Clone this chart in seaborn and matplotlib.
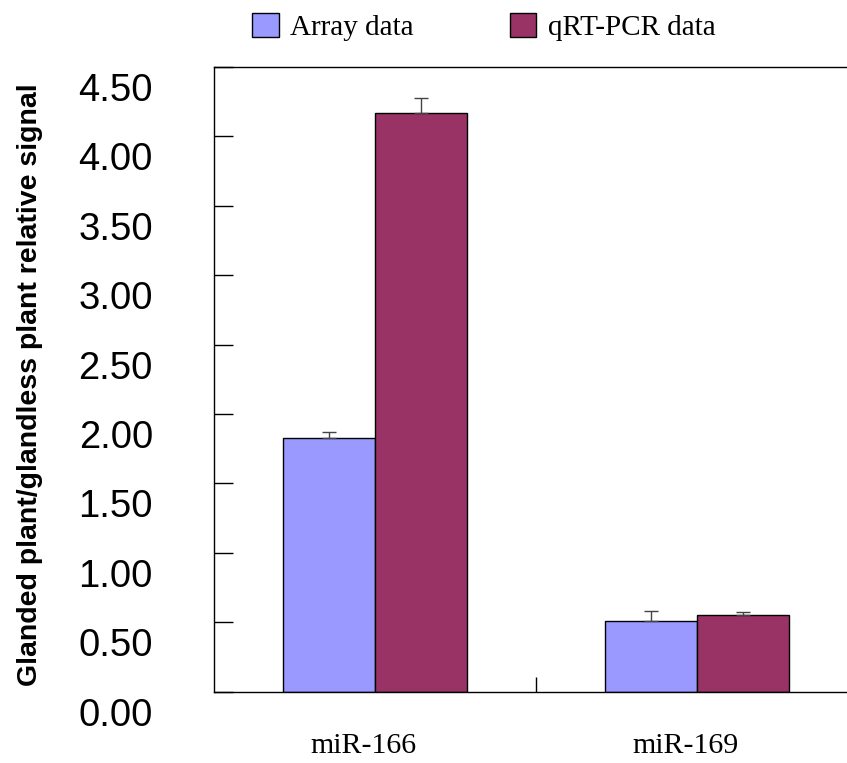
import numpy as np
import pandas as pd
import seaborn as sns
import matplotlib.pyplot as plt
import matplotlib.transforms as mtransforms

# values
genes = ["miR-166", "miR-169"]
series = ["Array data", "qRT-PCR data"]
array_vals = [1.83, 0.51]
array_err = [0.04, 0.07]
qpcr_vals = [4.17, 0.55]
qpcr_err = [0.11, 0.02]
yticks = [0.0, 0.5, 1.0, 1.5, 2.0, 2.5, 3.0, 3.5, 4.0, 4.5]
colors = ["#9999FF", "#993366"]

df = pd.DataFrame({
    "gene": genes * 2,
    "series": [series[0]] * 2 + [series[1]] * 2,
    "value": array_vals + qpcr_vals,
})
errs = [array_err, qpcr_err]

sns.set_style("white")
plt.rcParams.update({"text.color": "black", "xtick.color": "black",
                     "ytick.color": "black", "axes.labelcolor": "black"})
fig = plt.figure(figsize=(8.47, 7.63), dpi=100)
W, H = 847, 763
ax = fig.add_axes([214 / W, (H - 691.5) / H, 644 / W, (691.5 - 67) / H])

sns.barplot(data=df, x="gene", y="value", hue="series", order=genes,
            hue_order=series, palette=colors, width=0.572, errorbar=None,
            edgecolor="black", linewidth=1.0, saturation=1, ax=ax)

# upper error bars only
for cont, e in zip(ax.containers, errs):
    xs = [b.get_x() + b.get_width() / 2 for b in cont]
    hs = [b.get_height() for b in cont]
    ax.errorbar(xs, hs, yerr=[np.zeros(len(e)), e], fmt="none",
                ecolor="#444444", elinewidth=1.0, capsize=5, capthick=1.0)

ax.set_xlim(-0.5, 1.5)
ax.set_ylim(0, 4.5)
ax.set_xlabel("")
ax.set_ylabel("")

ax.set_yticks(yticks)
ax.set_yticklabels([f"{t:.2f}" for t in yticks], fontsize=27.5,
                   family=["Liberation Sans", "DejaVu Sans"])
ax.tick_params(axis="y", direction="in", length=14, width=1, pad=44, left=True)
offset = mtransforms.ScaledTranslation(0, -20 / 100, fig.dpi_scale_trans)
for lab in ax.get_yticklabels():
    lab.set_transform(lab.get_transform() + offset)

ax.set_xticks([0, 1])
ax.set_xticklabels(genes, fontsize=21.5, family=["Liberation Serif", "DejaVu Serif"])
ax.tick_params(axis="x", length=0, pad=30)
xoff = mtransforms.ScaledTranslation(-12 / 100, 0, fig.dpi_scale_trans)
for lab in ax.get_xticklabels():
    lab.set_transform(lab.get_transform() + xoff)
ax.set_xticks([0.5, 1.5], minor=True)
ax.tick_params(axis="x", which="minor", direction="in", length=11, width=1,
               bottom=True)

for side in ["top", "left", "bottom", "right"]:
    ax.spines[side].set_visible(True)
    ax.spines[side].set_color("black")
    ax.spines[side].set_linewidth(1.0)

# legend above the plot
ax.get_legend().remove()
handles = [plt.Rectangle((0, 0), 1, 1, facecolor=c, edgecolor="black", linewidth=1)
           for c in colors]
fig.legend(handles, series, loc="center", bbox_to_anchor=(484 / W, 1 - 27 / H),
           ncol=2, frameon=False, handlelength=0.9, handleheight=0.9,
           handletextpad=0.4, columnspacing=3.3,
           prop={"family": ["Liberation Serif", "DejaVu Serif"], "size": 21})

fig.text(30 / W, 1 - 385 / H, "Glanded plant/glandless plant relative signal",
         rotation=90, ha="center", va="center", fontsize=20.5, fontweight="bold",
         family=["Liberation Sans", "DejaVu Sans"])

fig.savefig("out.png", dpi=100)
